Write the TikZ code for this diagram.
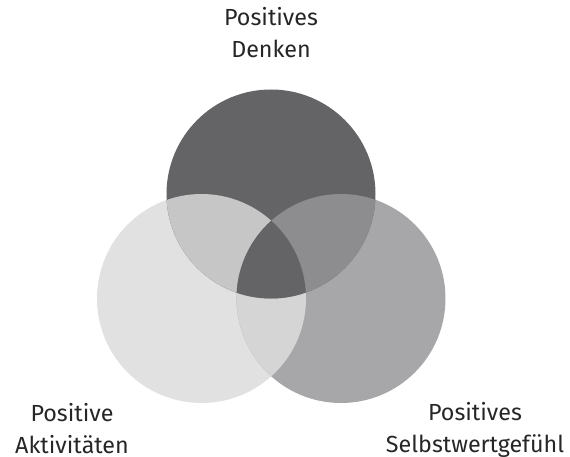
\documentclass[tikz,border=0pt]{standalone}
\usepackage{fontspec}
\setmainfont{Fira Sans}
\definecolor{denken}{HTML}{646466}
\definecolor{aktiv}{HTML}{E1E1E2}
\definecolor{selbst}{HTML}{A7A7A9}
\definecolor{denkaktiv}{HTML}{C6C6C7}
\definecolor{denkselbst}{HTML}{8D8D8F}
\definecolor{aktivselbst}{HTML}{D5D5D6}
\begin{document}
\begin{tikzpicture}[x=1pt,y=1pt,
  label/.style={align=center,anchor=base,inner sep=0pt,
    font=\fontsize{23.3}{32}\selectfont,text=black!85}]
\useasboundingbox (0,0) rectangle (570,456);
\def\rad{104.5}
\coordinate (top) at (271,262);
\coordinate (left) at (201.5,157.5);
\coordinate (right) at (341,157.5);
% the three circles
\fill[aktiv] (left) circle (\rad);
\fill[selbst] (right) circle (\rad);
\fill[denken] (top) circle (\rad);
% overlaps
\begin{scope}
  \clip (left) circle (\rad);
  \fill[aktivselbst] (right) circle (\rad);
  \fill[denkaktiv] (top) circle (\rad);
\end{scope}
\begin{scope}
  \clip (right) circle (\rad);
  \fill[denkselbst] (top) circle (\rad);
  \clip (left) circle (\rad);
  \fill[denken] (top) circle (\rad);
\end{scope}
% labels (base = last line)
\node[label] (denken) at (271,398) {Positives\\Denken};
\node[label] (aktiv) at (72,3) {Positive\\Aktivitäten};
\node[label] (selbst) at (475,4) {Positives\\Selbstwertgefühl};
\end{tikzpicture}
\end{document}
